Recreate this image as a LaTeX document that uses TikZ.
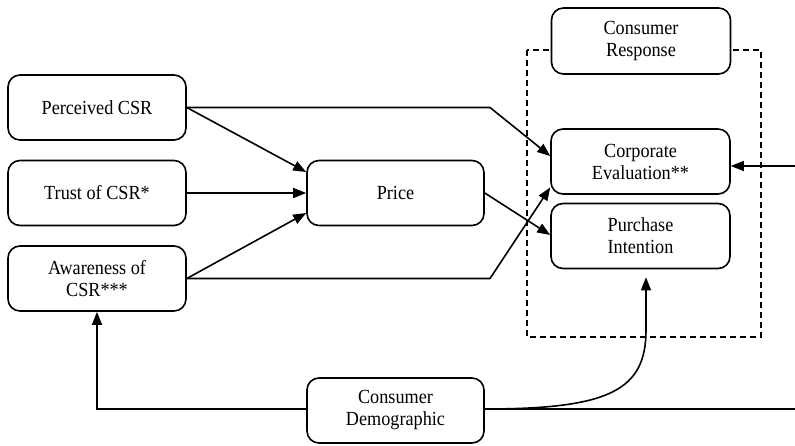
\documentclass[tikz,border=0pt]{standalone}
\usepackage{fontspec}
\setmainfont{Liberation Serif}[FakeStretch=0.91]
\usetikzlibrary{arrows.meta}
\begin{document}
\begin{tikzpicture}[x=1pt,y=-1pt,
  box/.style={draw, line width=1.6pt, rounded corners=12pt, minimum width=178pt, minimum height=65pt,
    align=center, inner sep=2pt, fill=white, font=\fontsize{20}{22}\selectfont},
  arr/.style={line width=1.6pt, -{Triangle[length=13pt,width=10pt]}},
  ln/.style={line width=1.6pt}]
\useasboundingbox (0,0) rectangle (795,445);
\draw[line width=1.5pt, dash pattern=on 6pt off 4pt] (527,50) rectangle (761,337);
\node[box] (pcsr) at (97,107.5) {Perceived CSR};
\node[box] (trust) at (97,193) {Trust of CSR*};
\node[box] (aware) at (97,278.5) {Awareness of\\CSR***};
\node[box, minimum width=177pt] (price) at (395.5,193) {Price};
\node[box, minimum width=179pt, minimum height=66pt] (cr) at (641,41) {Consumer\\Response};
\node[box, minimum width=179pt] (ce) at (640.5,161.5) {Corporate\\Evaluation**};
\node[box, minimum width=179pt] (pi) at (640.5,236) {Purchase\\Intention};
\node[box, minimum width=177pt] (dem) at (395.5,410.5) {Consumer\\Demographic};
\coordinate (b1) at (490,107.5);
\coordinate (b2) at (490,278.5);
\coordinate (farr) at (800,409);
\coordinate (farc) at (800,166);
\draw[arr] (pcsr.east) -- ([yshift=21pt]price.west);
\draw[arr] (trust.east) -- (price.west);
\draw[arr] (aware.east) -- ([yshift=-20pt]price.west);
\draw[arr] (pcsr.east) -- (b1) -- ([yshift=5.5pt]ce.west);
\draw[arr] (aware.east) -- (b2) -- ([yshift=-26pt]ce.west);
\draw[arr] (price.east) -- ([yshift=1pt]pi.west);
\draw[arr] ([yshift=1.5pt]dem.west) -| (aware.south);
\draw[ln] ([yshift=1.5pt]dem.east) -- (farr);
\draw[arr] (farc) -- ([yshift=-4.5pt]ce.east);
\draw[arr] ([yshift=1.5pt]dem.east) .. controls (610,409) and (646,390) .. (646,330) -- ([yshift=-8pt]pi.south -| 646,0);
\end{tikzpicture}
\end{document}
